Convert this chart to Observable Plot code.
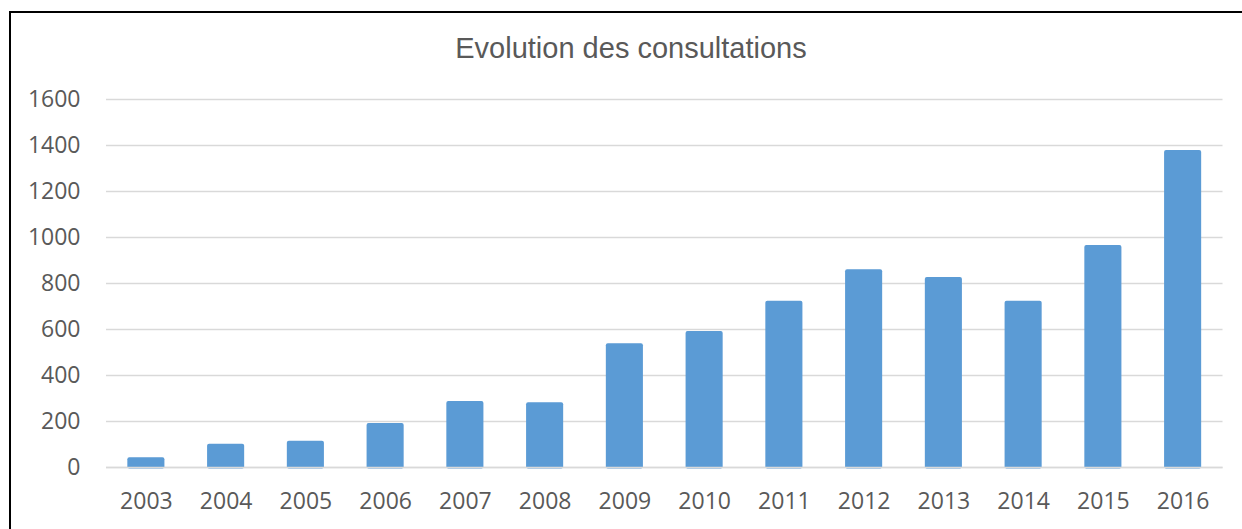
<!DOCTYPE html>
<html>
<head>
<meta charset="utf-8">
<script src="https://cdn.jsdelivr.net/npm/d3@7"></script>
<script src="https://cdn.jsdelivr.net/npm/@observablehq/plot@0.6"></script>
<style>
  html, body { margin: 0; padding: 0; background: #fff; }
  #wrap { position: relative; width: 1242px; height: 529px; overflow: hidden; background: #fff; }
  #frame { position: absolute; left: 9px; top: 11px; width: 1300px; height: 600px; border-top: 2px solid #000; border-left: 2px solid #000; box-sizing: border-box; }
  #title { position: absolute; left: 0; top: 30px; width: 1262px; text-align: center; font-family: "Liberation Sans", Arial, sans-serif; font-size: 29px; color: #595959; line-height: 36px; }
  #chart { position: absolute; left: 0; top: 0; }
</style>
</head>
<body>
<div id="wrap">
  <div id="frame"></div>
  <div id="title">Evolution des consultations</div>
  <div id="chart"></div>
</div>
<script>
const years = ["2003","2004","2005","2006","2007","2008","2009","2010","2011","2012","2013","2014","2015","2016"];
const consultations = [42, 101, 114, 191, 287, 281, 538, 591, 723, 860, 826, 723, 965, 1378];
const yTicks = [0, 200, 400, 600, 800, 1000, 1200, 1400, 1600];

const data = years.map((y, i) => ({year: y, value: consultations[i]}));

const chart = Plot.plot({
  width: 1242,
  height: 529,
  marginTop: 99,
  marginBottom: 62,
  marginLeft: 106,
  marginRight: 19.5,
  style: {fontFamily: "'Open Sans', sans-serif", fontSize: "23px", color: "#595959", background: "transparent"},
  x: {domain: years, paddingInner: 0.535, paddingOuter: 0.2675, round: false, label: null},
  y: {domain: [0, 1600], label: null},
  marks: [
    Plot.gridY(yTicks, {stroke: "#d9d9d9", strokeOpacity: 1, strokeWidth: 1.5}),
    Plot.barY(data, {x: "year", y: "value", fill: "#5b9bd5", rx: 2, insetBottom: -1.5}),
    Plot.ruleY([0], {stroke: "#d9d9d9", strokeWidth: 1.5}),
    Plot.axisX({tickSize: 0, tickPadding: 25, fill: "#595959", fontSize: 23, label: null}),
    Plot.axisY(yTicks, {tickSize: 0, tickPadding: 26, fill: "#595959", fontSize: 23, tickFormat: d => String(d), label: null})
  ]
});
document.getElementById("chart").appendChild(chart);
</script>
</body>
</html>
